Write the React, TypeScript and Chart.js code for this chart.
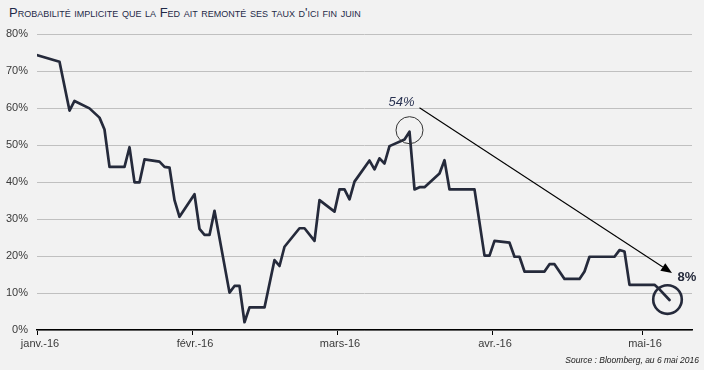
import React, { useEffect, useRef } from "react";
import { Chart, registerables } from "chart.js";

Chart.register(...registerables);

// ---- Data ----
const dates = [
  "2015-12-31", "2016-01-05", "2016-01-07", "2016-01-08", "2016-01-11", "2016-01-13",
  "2016-01-14", "2016-01-15", "2016-01-18", "2016-01-19", "2016-01-20", "2016-01-21",
  "2016-01-22", "2016-01-25", "2016-01-26", "2016-01-27", "2016-01-28", "2016-01-29",
  "2016-02-01", "2016-02-02", "2016-02-03", "2016-02-04", "2016-02-05", "2016-02-08",
  "2016-02-09", "2016-02-10", "2016-02-11", "2016-02-12", "2016-02-15", "2016-02-17",
  "2016-02-18", "2016-02-19", "2016-02-22", "2016-02-23", "2016-02-25", "2016-02-26",
  "2016-02-29", "2016-03-01", "2016-03-02", "2016-03-03", "2016-03-04", "2016-03-07",
  "2016-03-08", "2016-03-09", "2016-03-10", "2016-03-11", "2016-03-14", "2016-03-15",
  "2016-03-16", "2016-03-17", "2016-03-18", "2016-03-21", "2016-03-22", "2016-03-23",
  "2016-03-28", "2016-03-30", "2016-03-31", "2016-04-01", "2016-04-04", "2016-04-05",
  "2016-04-06", "2016-04-07", "2016-04-11", "2016-04-12", "2016-04-13", "2016-04-15",
  "2016-04-18", "2016-04-19", "2016-04-20", "2016-04-25", "2016-04-26", "2016-04-27",
  "2016-04-28", "2016-05-03", "2016-05-04", "2016-05-06",
];
const probabilities = [
  74.5, 72.5, 59.3, 61.9, 59.9, 57.4,
  54.2, 44.1, 44.1, 49.4, 39.9, 39.9,
  46.1, 45.5, 44.1, 43.9, 35.1, 30.6,
  36.7, 27.3, 25.7, 25.7, 32.2, 10.1,
  11.9, 11.9, 2.1, 6.1, 6.1, 18.9,
  17.3, 22.5, 27.5, 27.5, 24.1, 35.1,
  32.0, 38.0, 38.0, 35.3, 40.1, 45.8,
  43.4, 46.4, 45.0, 49.7, 51.5, 53.6,
  38.0, 38.6, 38.6, 42.3, 45.9, 38.0,
  38.0, 20.1, 20.1, 24.1, 23.6, 19.8,
  19.8, 15.8, 15.8, 17.8, 17.8, 13.8,
  13.8, 15.8, 19.8, 19.8, 21.6, 21.2,
  12.2, 12.2, 11.0, 8.1,
];
const tickDates = ["2016-01-01", "2016-02-01", "2016-03-01", "2016-04-01", "2016-05-01"];
const tickLabels = ["janv.-16", "févr.-16", "mars-16", "avr.-16", "mai-16"];
const axisEndDate = "2016-05-11";
const yMax = 80;
const yStep = 10;
const peakLabel = "54%";
const endLabel = "8%";
const title = "Probabilité implicite que la Fed ait remonté ses taux d'ici fin juin";
const source = "Source : Bloomberg, au 6 mai 2016";

const dayIndex = (s: string) => {
  const [y, m, d] = s.split("-").map(Number);
  return (Date.UTC(y, m - 1, d) - Date.UTC(2016, 0, 1)) / 86400000;
};

const LINE = "#252a3b";
const FONT = "'Liberation Sans', Arial, sans-serif";

export default function App() {
  const ref = useRef<HTMLCanvasElement | null>(null);

  useEffect(() => {
    if (!ref.current) return;
    const points = dates.map((d, i) => ({ x: dayIndex(d) + 0.5, y: probabilities[i] }));
    const tickDays = tickDates.map(dayIndex);

    const annot = {
      id: "annot",
      afterDatasetsDraw(chart: any) {
        const ctx = chart.ctx;
        const meta = chart.getDatasetMeta(0);
        // the 54% annotation: highest value after the February trough
        let pk = 20;
        for (let i = 20; i < probabilities.length; i++) if (probabilities[i] > probabilities[pk]) pk = i;
        const p = meta.data[pk];
        const e = meta.data[meta.data.length - 1];
        ctx.save();
        // peak circle
        ctx.beginPath();
        ctx.strokeStyle = "#333";
        ctx.lineWidth = 1;
        ctx.arc(p.x, p.y - 1.5, 13.5, 0, Math.PI * 2);
        ctx.stroke();
        // peak label
        ctx.fillStyle = "#2a3352";
        ctx.font = "italic 13px " + FONT;
        ctx.textAlign = "center";
        ctx.textBaseline = "middle";
        ctx.fillText(peakLabel, p.x - 8, p.y - 29);
        // arrow
        const x1 = p.x + 10, y1 = p.y - 24;
        const x2 = e.x + 2.5, y2 = e.y - 27;
        const ang = Math.atan2(y2 - y1, x2 - x1);
        const hl = 11, hw = 4.5;
        const bx = x2 - hl * Math.cos(ang), by = y2 - hl * Math.sin(ang);
        ctx.beginPath();
        ctx.strokeStyle = "#000";
        ctx.lineWidth = 1.1;
        ctx.moveTo(x1, y1);
        ctx.lineTo(bx, by);
        ctx.stroke();
        ctx.beginPath();
        ctx.fillStyle = "#000";
        ctx.moveTo(x2, y2);
        ctx.lineTo(bx + hw * Math.sin(ang), by - hw * Math.cos(ang));
        ctx.lineTo(bx - hw * Math.sin(ang), by + hw * Math.cos(ang));
        ctx.closePath();
        ctx.fill();
        // end circle
        ctx.beginPath();
        ctx.strokeStyle = LINE;
        ctx.lineWidth = 2.6;
        ctx.arc(e.x - 2, e.y - 0.5, 14.3, 0, Math.PI * 2);
        ctx.stroke();
        // end label
        ctx.fillStyle = LINE;
        ctx.font = "bold 13px " + FONT;
        ctx.textAlign = "left";
        ctx.textBaseline = "middle";
        ctx.fillText(endLabel, e.x + 8, e.y - 22.5);
        ctx.restore();
      },
    };

    const chart = new Chart(ref.current, {
      type: "line",
      data: {
        datasets: [
          {
            data: points,
            borderColor: LINE,
            borderWidth: 2.7,
            pointRadius: 0,
            tension: 0,
            borderJoinStyle: "round",
            borderCapStyle: "round",
          },
        ],
      },
      options: {
        animation: false,
        responsive: false,
        devicePixelRatio: 1,
        layout: { padding: { top: 34, right: 12, left: 0, bottom: 0 } },
        plugins: { legend: { display: false }, tooltip: { enabled: false }, title: { display: false } },
        scales: {
          x: {
            type: "linear",
            min: 0,
            max: dayIndex(axisEndDate),
            afterBuildTicks: (s: any) => {
              s.ticks = tickDays.map((v) => ({ value: v }));
            },
            afterFit: (s: any) => {
              s.height = 40;
            },
            ticks: {
              autoSkip: false,
              maxRotation: 0,
              labelOffset: 3,
              padding: 2,
              color: "#3a3a3a",
              font: { family: FONT, size: 11 },
              callback: (v: any) => {
                const i = tickDays.indexOf(Number(v));
                return i >= 0 ? tickLabels[i] : "";
              },
            },
            grid: { drawOnChartArea: false, drawTicks: true, tickLength: 5, color: "#000", lineWidth: 1 },
            border: { display: true, color: "#000", width: 1.5 },
          },
          y: {
            min: 0,
            max: yMax,
            afterFit: (s: any) => {
              s.width = 37;
            },
            ticks: {
              stepSize: yStep,
              padding: 9,
              color: "#3a3a3a",
              font: { family: FONT, size: 11 },
              callback: (v: any) => v + "%",
            },
            grid: { color: "#c0c0c0", lineWidth: 1, drawTicks: false },
            border: { display: false },
          },
        },
      },
      plugins: [annot],
    } as any);
    return () => chart.destroy();
  }, []);

  return (
    <div style={{ position: "fixed", left: 0, top: 0, width: 704, height: 370, background: "#f2f2f2", overflow: "hidden" }}>
      <div
        style={{
          position: "absolute",
          left: 9,
          top: 5,
          fontFamily: FONT,
          fontSize: 13,
          lineHeight: "15px",
          fontVariant: "small-caps",
          color: "#1f2a48",
          whiteSpace: "nowrap",
        }}
      >
        {title}
      </div>
      <canvas ref={ref} width={704} height={370} style={{ position: "absolute", left: 0, top: 0, width: 704, height: 370 }} />
      <div
        style={{
          position: "absolute",
          right: 5,
          top: 355,
          fontFamily: FONT,
          fontSize: 8.5,
          lineHeight: "11px",
          fontStyle: "italic",
          color: "#1a1a1a",
          whiteSpace: "nowrap",
        }}
      >
        {source}
      </div>
    </div>
  );
}
